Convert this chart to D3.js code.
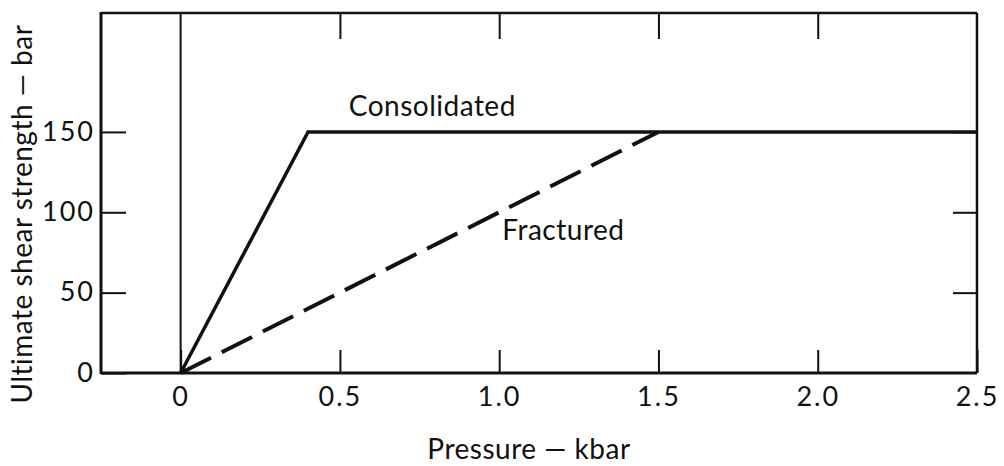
<!DOCTYPE html>
<html>
<head>
<meta charset="utf-8">
<script src="https://cdn.jsdelivr.net/npm/d3@7"></script>
<style>
  body { margin: 0; background: #fff; }
  svg { display: block; }
  text { font-family: Lato, "Noto Sans", sans-serif; fill: #111; }
</style>
</head>
<body>
<svg width="1004" height="466"></svg>
<script>
// Data
const xTicks = [0, 0.5, 1.0, 1.5, 2.0, 2.5];
const yTicks = [0, 50, 100, 150];
const consolidatedX = [0, 0.4, 2.5];
const consolidatedY = [0, 150, 150];
const fracturedX = [0, 1.5];
const fracturedY = [0, 150];

const svg = d3.select("svg");

// scales
const x = d3.scaleLinear().domain([-0.25, 2.5]).range([101, 977]);
const y = d3.scaleLinear().domain([0, 224]).range([373, 13]);

const fmtX = d => d === 0 ? "0" : d.toFixed(1);

// bottom axis, ticks pointing inward
const gBottom = svg.append("g")
  .attr("transform", `translate(0,${y(0)})`)
  .call(d3.axisBottom(x).tickValues(xTicks).tickSizeInner(-23).tickSizeOuter(0).tickPadding(14).tickFormat(fmtX));

// top axis, no labels
const gTop = svg.append("g")
  .attr("transform", `translate(0,${y.range()[1]})`)
  .call(d3.axisTop(x).tickValues(xTicks.slice(1, -1)).tickSizeInner(-26).tickSizeOuter(0).tickFormat(""));

// left axis
const gLeft = svg.append("g")
  .attr("transform", `translate(${x.range()[0]},0)`)
  .call(d3.axisLeft(y).tickValues(yTicks).tickSizeInner(-25).tickSizeOuter(0).tickPadding(6));

// right axis, no labels
const gRight = svg.append("g")
  .attr("transform", `translate(${x.range()[1]},0)`)
  .call(d3.axisRight(y).tickValues(yTicks.slice(1)).tickSizeInner(-24).tickSizeOuter(0).tickFormat(""));

[gBottom, gTop, gLeft, gRight].forEach(g => {
  g.select(".domain").remove();
  g.selectAll(".tick line").attr("stroke", "#111").attr("stroke-width", 2);
  g.selectAll(".tick text").attr("font-size", 27).attr("letter-spacing", 2).attr("fill", "#111");
});
gBottom.selectAll(".tick text").attr("dy", "0.71em");
gLeft.selectAll(".tick text").attr("dy", "0.3em");

// frame
const [x0, x1] = x.range();
const [y0, y1] = y.range();
svg.append("line").attr("x1", x0).attr("x2", x1).attr("y1", y1).attr("y2", y1)
  .attr("stroke", "#111").attr("stroke-width", 2.5);
svg.append("line").attr("x1", x1).attr("x2", x1).attr("y1", y1).attr("y2", y0)
  .attr("stroke", "#111").attr("stroke-width", 2.5);
svg.append("line").attr("x1", x0).attr("x2", x1).attr("y1", y0).attr("y2", y0)
  .attr("stroke", "#111").attr("stroke-width", 3);
svg.append("line").attr("x1", x0).attr("x2", x0).attr("y1", y1 - 1).attr("y2", y0 + 1)
  .attr("stroke", "#111").attr("stroke-width", 3);

// vertical line at zero pressure
svg.append("line").attr("x1", x(0)).attr("x2", x(0)).attr("y1", y1).attr("y2", y0)
  .attr("stroke", "#111").attr("stroke-width", 2);

// curves
const line = d3.line().x(d => x(d[0])).y(d => y(d[1]));

svg.append("path")
  .datum(d3.zip(consolidatedX, consolidatedY))
  .attr("d", line)
  .attr("fill", "none").attr("stroke", "#111").attr("stroke-width", 3.5)
  .attr("stroke-linejoin", "miter");

svg.append("path")
  .datum(d3.zip(fracturedX, fracturedY))
  .attr("d", line)
  .attr("fill", "none").attr("stroke", "#111").attr("stroke-width", 4)
  .attr("stroke-dasharray", "34 12");

// curve labels
svg.append("text").attr("x", x(0.79)).attr("y", y(160))
  .attr("text-anchor", "middle").attr("font-size", 28).attr("letter-spacing", 0.5).text("Consolidated");
svg.append("text").attr("x", x(1.01)).attr("y", y(82.7))
  .attr("font-size", 28).attr("letter-spacing", 0.5).text("Fractured");

// axis titles
svg.append("text").attr("x", 529).attr("y", 459)
  .attr("text-anchor", "middle").attr("font-size", 28).attr("letter-spacing", 0.5).text("Pressure — kbar");
svg.append("text").attr("transform", "translate(32,214) rotate(-90)")
  .attr("text-anchor", "middle").attr("font-size", 28).attr("letter-spacing", 0.5).text("Ultimate shear strength — bar");
</script>
</body>
</html>
